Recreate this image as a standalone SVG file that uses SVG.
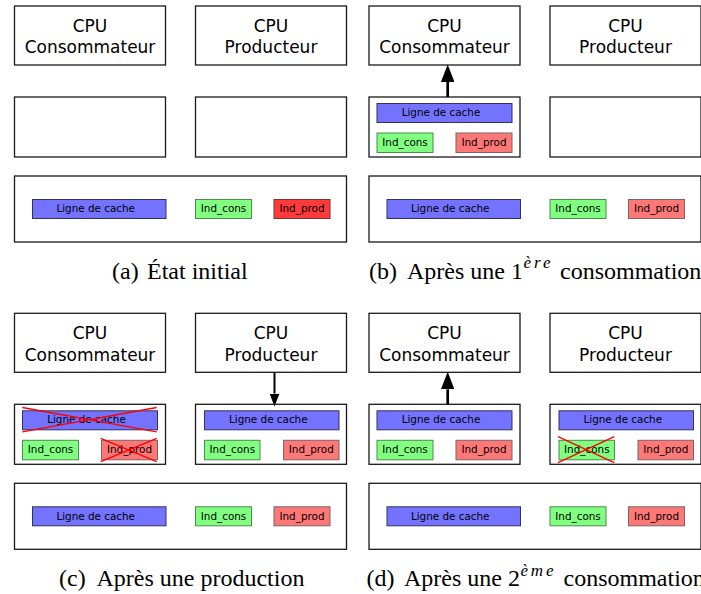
<svg xmlns="http://www.w3.org/2000/svg" width="701" height="594" viewBox="0 0 701 594">
<style>
.box{fill:#fff;stroke:#1a1a1a;stroke-width:1.3}
.cpu{font-family:"DejaVu Sans",sans-serif;font-size:17px;fill:#000;text-anchor:middle}
.lbl{font-family:"DejaVu Sans",sans-serif;font-size:10.4px;fill:#000;text-anchor:middle}
.bar{fill:#7373ff;stroke:#33335a;stroke-width:1}
.cons{fill:#80ff80;stroke:#4f8a4f;stroke-width:1}
.prod{fill:#ff7878;stroke:#7a6464;stroke-width:1}
.hot{fill:#ff3a3a;stroke:#7a3434;stroke-width:1}
.x{stroke:#ff0000;stroke-width:1.3;fill:none}
.cap{font-family:"Liberation Serif","Times New Roman",serif;font-size:24px;fill:#000}
.sup{font-family:"Liberation Serif","Times New Roman",serif;font-size:17px;font-style:italic}
.arrow{stroke:#000;fill:none;marker-end:url(#head)}
</style>
<defs>
<marker id="head" viewBox="0 0 6.5 5" refX="0" refY="2.5" markerWidth="6.5" markerHeight="5" orient="auto" markerUnits="strokeWidth">
<path d="M0,0 L6.5,2.5 L0,5 Z" fill="#000"/>
</marker>
</defs>

<!-- Panel (a) -->
<g id="panel-a">
<g id="a-cpu-cons"><rect class="box" x="14.5" y="6" width="151" height="59"/><text class="cpu" x="90" y="31.5">CPU</text><text class="cpu" x="90" y="53.3">Consommateur</text></g>
<g id="a-cpu-prod"><rect class="box" x="195.5" y="6" width="151" height="59"/><text class="cpu" x="271" y="31.5">CPU</text><text class="cpu" x="271" y="53.3">Producteur</text></g>
<g id="a-cache-cons"><rect class="box" x="14.5" y="97" width="151" height="60"/></g>
<g id="a-cache-prod"><rect class="box" x="195.5" y="97" width="151" height="60"/></g>
<g id="a-mem"><rect class="box" x="14.5" y="176" width="332" height="66"/>
<rect class="bar" x="32.5" y="199.5" width="133.5" height="19"/><text class="lbl" x="95.7" y="212.3">Ligne de cache</text>
<rect class="cons" x="195.5" y="199.5" width="56" height="19"/><text class="lbl" x="223.5" y="212.3">Ind_cons</text>
<rect class="hot" x="274" y="199.5" width="56" height="19"/><text class="lbl" x="302" y="212.3">Ind_prod</text></g>
<text class="cap" x="112" y="278.7">(a)</text><text class="cap" x="147" y="278.7">État initial</text>
</g>

<!-- Panel (b) -->
<g id="panel-b" transform="translate(354.5,0)">
<g id="b-cpu-cons"><rect class="box" x="14.5" y="6" width="151" height="59"/><text class="cpu" x="90" y="31.5">CPU</text><text class="cpu" x="90" y="53.3">Consommateur</text></g>
<g id="b-cpu-prod"><rect class="box" x="195.5" y="6" width="151" height="59"/><text class="cpu" x="271" y="31.5">CPU</text><text class="cpu" x="271" y="53.3">Producteur</text></g>
<g id="b-cache-cons"><rect class="box" x="14.5" y="97" width="151" height="60"/>
<rect class="bar" x="22.5" y="103.5" width="135" height="19"/><text class="lbl" x="86.5" y="116">Ligne de cache</text>
<rect class="cons" x="22.5" y="133" width="56" height="19.5"/><text class="lbl" x="50.5" y="146">Ind_cons</text>
<rect class="prod" x="101.5" y="133" width="56" height="19.5"/><text class="lbl" x="129.5" y="146">Ind_prod</text></g>
<g id="b-cache-prod"><rect class="box" x="195.5" y="97" width="151" height="60"/></g>
<g id="b-mem"><rect class="box" x="14.5" y="176" width="332" height="66"/>
<rect class="bar" x="32.5" y="199.5" width="133.5" height="19"/><text class="lbl" x="95.7" y="212.3">Ligne de cache</text>
<rect class="cons" x="195.5" y="199.5" width="56" height="19"/><text class="lbl" x="223.5" y="212.3">Ind_cons</text>
<rect class="prod" x="274" y="199.5" width="56" height="19"/><text class="lbl" x="302" y="212.3">Ind_prod</text></g>
</g>
<text class="cap" x="369" y="278.7">(b)</text>
<text class="cap" x="407" y="278.7">Après une 1<tspan class="sup" dx="0.5" dy="-10.5" textLength="27">ère</tspan><tspan x="560" dy="10.5">consommation</tspan></text>

<!-- Panel (c) -->
<g id="panel-c" transform="translate(0,307.3)">
<g id="c-cpu-cons"><rect class="box" x="14.5" y="6" width="151" height="59"/><text class="cpu" x="90" y="31.5">CPU</text><text class="cpu" x="90" y="53.3">Consommateur</text></g>
<g id="c-cpu-prod"><rect class="box" x="195.5" y="6" width="151" height="59"/><text class="cpu" x="271" y="31.5">CPU</text><text class="cpu" x="271" y="53.3">Producteur</text></g>
<g id="c-cache-cons"><rect class="box" x="14.5" y="97" width="151" height="60"/>
<rect class="bar" x="22.5" y="103.5" width="135" height="19"/><text class="lbl" x="86.5" y="116">Ligne de cache</text>
<rect class="cons" x="22.5" y="133" width="56" height="19.5"/><text class="lbl" x="50.5" y="146">Ind_cons</text>
<rect class="prod" x="101.5" y="133" width="56" height="19.5"/><text class="lbl" x="129.5" y="146">Ind_prod</text>
<path class="x" d="M22.3,100.2 L156.7,124.5 M22.3,124.5 L156.7,100.2"/>
<path class="x" d="M100.7,131 L156.7,154.4 M100.7,154.4 L156.7,131"/></g>
<g id="c-cache-prod"><rect class="box" x="195.5" y="97" width="151" height="60"/>
<rect class="bar" x="204.5" y="103.5" width="134.5" height="19"/><text class="lbl" x="268.3" y="116">Ligne de cache</text>
<rect class="cons" x="204.5" y="133" width="55.5" height="19.5"/><text class="lbl" x="232.3" y="146">Ind_cons</text>
<rect class="prod" x="283.5" y="133" width="55.5" height="19.5"/><text class="lbl" x="311.3" y="146">Ind_prod</text></g>
<g id="c-mem"><rect class="box" x="14.5" y="176" width="332" height="66"/>
<rect class="bar" x="32.5" y="199.5" width="133.5" height="19"/><text class="lbl" x="95.7" y="212.3">Ligne de cache</text>
<rect class="cons" x="195.5" y="199.5" width="56" height="19"/><text class="lbl" x="223.5" y="212.3">Ind_cons</text>
<rect class="prod" x="274" y="199.5" width="56" height="19"/><text class="lbl" x="302" y="212.3">Ind_prod</text></g>
</g>
<text class="cap" x="59" y="586">(c)</text><text class="cap" x="96.5" y="586">Après une production</text>

<!-- Panel (d) -->
<g id="panel-d" transform="translate(354.5,307.3)">
<g id="d-cpu-cons"><rect class="box" x="14.5" y="6" width="151" height="59"/><text class="cpu" x="90" y="31.5">CPU</text><text class="cpu" x="90" y="53.3">Consommateur</text></g>
<g id="d-cpu-prod"><rect class="box" x="195.5" y="6" width="151" height="59"/><text class="cpu" x="271" y="31.5">CPU</text><text class="cpu" x="271" y="53.3">Producteur</text></g>
<g id="d-cache-cons"><rect class="box" x="14.5" y="97" width="151" height="60"/>
<rect class="bar" x="22.5" y="103.5" width="135" height="19"/><text class="lbl" x="86.5" y="116">Ligne de cache</text>
<rect class="cons" x="22.5" y="133" width="56" height="19.5"/><text class="lbl" x="50.5" y="146">Ind_cons</text>
<rect class="prod" x="101.5" y="133" width="56" height="19.5"/><text class="lbl" x="129.5" y="146">Ind_prod</text></g>
<g id="d-cache-prod"><rect class="box" x="195.5" y="97" width="151" height="60"/>
<rect class="bar" x="204.5" y="103.5" width="134.5" height="19"/><text class="lbl" x="268.3" y="116">Ligne de cache</text>
<rect class="cons" x="204.5" y="133" width="55.5" height="19.5"/><text class="lbl" x="232.3" y="146">Ind_cons</text>
<rect class="prod" x="283.5" y="133" width="55.5" height="19.5"/><text class="lbl" x="311.3" y="146">Ind_prod</text>
<path class="x" d="M203.5,129.4 L259.8,155.4 M203.5,155.4 L259.8,129.4"/></g>
<g id="d-mem"><rect class="box" x="14.5" y="176" width="332" height="66"/>
<rect class="bar" x="32.5" y="199.5" width="133.5" height="19"/><text class="lbl" x="95.7" y="212.3">Ligne de cache</text>
<rect class="cons" x="195.5" y="199.5" width="56" height="19"/><text class="lbl" x="223.5" y="212.3">Ind_cons</text>
<rect class="prod" x="274" y="199.5" width="56" height="19"/><text class="lbl" x="302" y="212.3">Ind_prod</text></g>
</g>
<text class="cap" x="366.5" y="586">(d)</text>
<text class="cap" x="404" y="586">Après une 2<tspan class="sup" dx="0.5" dy="-10.5" textLength="33">ème</tspan><tspan x="563.5" dy="10.5">consommation</tspan></text>

<g id="connectors">
<path class="arrow" style="stroke-width:2.7" d="M447.7,97 L447.7,82"/>
<path class="arrow" style="stroke-width:2" d="M274.5,372.7 L274.5,393.5"/>
<path class="arrow" style="stroke-width:2.7" d="M447.7,404.3 L447.7,389.3"/>
</g>
</svg>
